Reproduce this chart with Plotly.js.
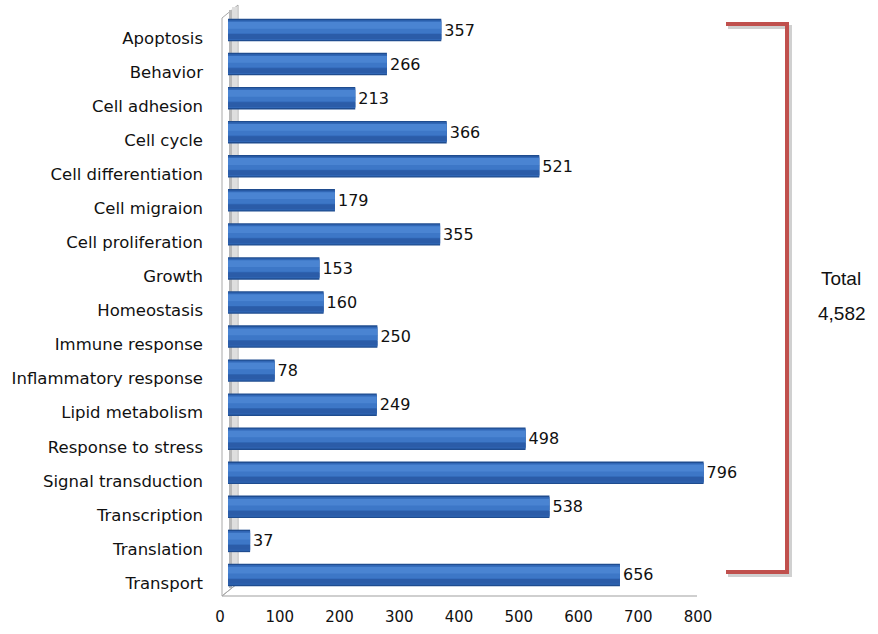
<!DOCTYPE html>
<html>
<head>
<meta charset="utf-8">
<script src="https://cdn.plot.ly/plotly-3.0.1.min.js"></script>
<style>
  html, body { margin: 0; padding: 0; background: #ffffff; }
  #chart { width: 878px; height: 634px; }
</style>
</head>
<body>
<div id="chart"></div>
<script>
// Gene Ontology categories and the number of genes in each
const categories = [
  "Apoptosis", "Behavior", "Cell adhesion", "Cell cycle", "Cell differentiation",
  "Cell migraion", "Cell proliferation", "Growth", "Homeostasis", "Immune response",
  "Inflammatory response", "Lipid metabolism", "Response to stress",
  "Signal transduction", "Transcription", "Translation", "Transport"
];
const geneCounts = [357, 266, 213, 366, 521, 179, 355, 153, 160, 250, 78, 249, 498, 796, 538, 37, 656];
const xTicks = [0, 100, 200, 300, 400, 500, 600, 700, 800];
const totalLabel = "Total";
const totalValue = "4,582";

// Plot-area frame in page pixels
const W = 878, H = 634;
const L = 228, R = 706, T = 13, B = 592;
const px = x => (x - L) / (R - L);
const py = y => (B - y) / (B - T);

const font = "'DejaVu Sans', Verdana, sans-serif";

// Layered bars give the cylinder-like shading of each bar
function barLayer(color, offset, width, withText) {
  return {
    type: "bar",
    orientation: "h",
    x: geneCounts,
    y: categories,
    offset: offset,
    width: width,
    marker: { color: color, line: { width: 0 } },
    text: withText ? geneCounts.map(String) : undefined,
    textposition: withText ? "outside" : "none",
    textfont: { family: font, size: 16, color: "#111111" },
    cliponaxis: false,
    hoverinfo: "skip",
    showlegend: false
  };
}

const traces = [
  barLayer("#1f4c8f", -0.33, 0.66, true),
  barLayer("#3167b6", -0.29, 0.58, false),
  barLayer("#4a84d2", -0.24, 0.22, false),
  barLayer("#3d77c7", -0.04, 0.14, false),
  barLayer("#2b5ca8", 0.12, 0.14, false)
];

function path(points) {
  return "M " + points.map(p => px(p[0]) + "," + py(p[1])).join(" L ");
}

const shapes = [
  // side wall
  { type: "path", xref: "paper", yref: "paper", layer: "below",
    path: path([[222, 18], [238, 5], [238, 583], [222, 596]]) + " Z",
    fillcolor: "#ffffff", line: { color: "#a8a8a8", width: 1 } },
  { type: "rect", xref: "paper", yref: "paper", layer: "below",
    x0: px(229), x1: px(232), y0: py(588), y1: py(10),
    fillcolor: "#b9b9b9", line: { width: 0 } },
  { type: "rect", xref: "paper", yref: "paper", layer: "below",
    x0: px(232), x1: px(237), y0: py(585), y1: py(7),
    fillcolor: "#dedede", line: { width: 0 } },
  // floor edge
  { type: "line", xref: "paper", yref: "paper", layer: "below",
    x0: px(222), y0: py(596), x1: px(697), y1: py(596),
    line: { color: "#a0a0a0", width: 1.2 } },
  { type: "line", xref: "paper", yref: "paper", layer: "below",
    x0: px(222), y0: py(596), x1: px(238), y1: py(583),
    line: { color: "#a8a8a8", width: 1 } },
  // bracket shadow and bracket
  { type: "path", xref: "paper", yref: "paper",
    path: path([[728, 27], [790, 27], [790, 575], [728, 575]]),
    line: { color: "rgba(120,120,120,0.35)", width: 4 } },
  { type: "path", xref: "paper", yref: "paper",
    path: path([[726, 24], [787, 24], [787, 572], [726, 572]]),
    line: { color: "#c0504d", width: 4 } }
];

const annotations = [
  { xref: "paper", yref: "paper", x: px(819), y: py(278), xanchor: "left", yanchor: "middle",
    text: totalLabel, showarrow: false,
    font: { family: "'Liberation Sans', Arial, sans-serif", size: 19, color: "#111111" } },
  { xref: "paper", yref: "paper", x: px(816), y: py(314), xanchor: "left", yanchor: "middle",
    text: totalValue, showarrow: false,
    font: { family: "'Liberation Sans', Arial, sans-serif", size: 19, color: "#111111" } }
];

const layout = {
  width: W, height: H,
  margin: { l: L, r: W - R, t: T, b: H - B, pad: 0 },
  paper_bgcolor: "#ffffff",
  plot_bgcolor: "rgba(0,0,0,0)",
  barmode: "overlay",
  showlegend: false,
  font: { family: font, color: "#111111" },
  xaxis: {
    range: [0, 800],
    tickvals: xTicks,
    ticktext: xTicks.map(String),
    showgrid: false, zeroline: false, showline: false,
    ticks: "",
    ticklabelstandoff: 14,
    ticklabelshift: -8,
    tickfont: { family: font, size: 15, color: "#111111" },
    fixedrange: true
  },
  yaxis: {
    type: "category",
    categoryorder: "array",
    categoryarray: categories,
    autorange: "reversed",
    showgrid: false, zeroline: false, showline: false,
    ticks: "",
    ticklabelstandoff: 24,
    ticklabelshift: -8,
    tickfont: { family: font, size: 16.5, color: "#111111" },
    fixedrange: true
  },
  shapes: shapes,
  annotations: annotations
};

Plotly.newPlot("chart", traces, layout, { displayModeBar: false, staticPlot: true });
</script>
</body>
</html>
